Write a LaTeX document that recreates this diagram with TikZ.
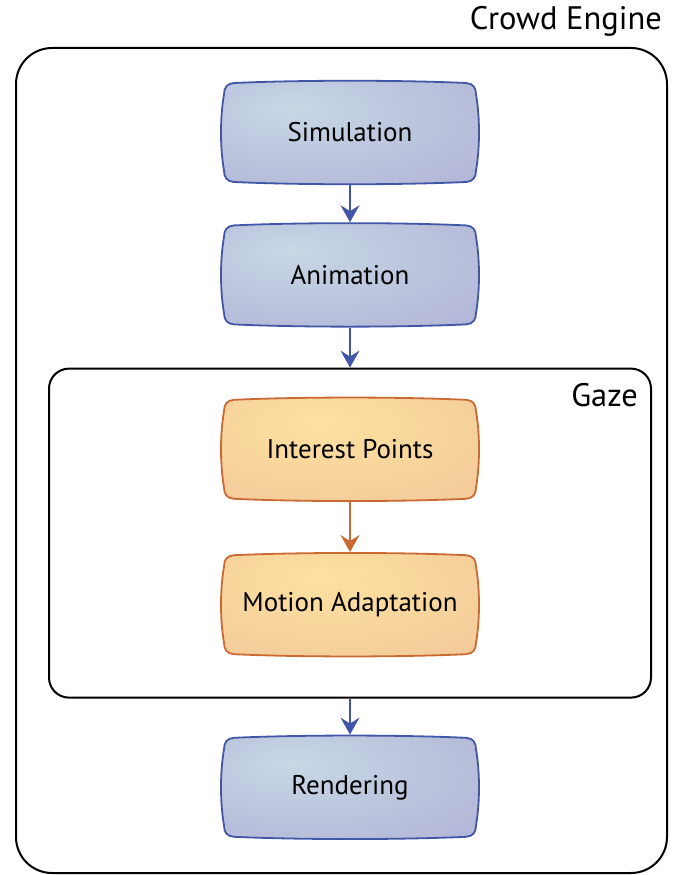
\documentclass[tikz,border=0pt]{standalone}
\usepackage{fontspec}
\setmainfont{PT Sans}
\usetikzlibrary{positioning,backgrounds,arrows.meta}
\definecolor{boxblue}{RGB}{66,86,168}
\definecolor{blueinner}{RGB}{200,216,230}
\definecolor{blueouter}{RGB}{162,158,204}
\definecolor{boxorange}{RGB}{202,106,50}
\definecolor{orangeinner}{RGB}{253,225,160}
\definecolor{orangeouter}{RGB}{236,188,150}
\pgfdeclareradialshading{blueglow}{\pgfpoint{-12bp}{12bp}}{color(0bp)=(blueinner); color(20bp)=(blueinner!70!blueouter); color(70bp)=(blueouter)}
\pgfdeclareradialshading{orangeglow}{\pgfpoint{-6bp}{14bp}}{color(0bp)=(orangeinner); color(20bp)=(orangeinner!70!orangeouter); color(60bp)=(orangeouter)}
\tikzstyle{stage}=[rectangle,minimum width=260pt,minimum height=105pt,inner sep=0pt,
font=\fontsize{27}{32}\selectfont]
\tikzstyle{bluestage}=[shade,shading=blueglow,draw=boxblue,line width=1.8pt]
\tikzstyle{orangestage}=[shade,shading=orangeglow,draw=boxorange,line width=1.8pt]
\tikzstyle{frame}=[rectangle,draw=black,line width=2pt]
\tikzstyle{framelabel}=[inner sep=0pt,font=\fontsize{32.5}{38}\selectfont]
\tikzstyle{flow}=[-{Stealth[length=17pt,width=19pt,inset=6pt]},line width=1.6pt,draw=boxblue]
% outline of a stage box, drawn round its node
\newcommand{\blob}[2]{%
  \path[#2,shift={(#1.center)}] (-116,49.5) .. controls (-50,52.5) and (50,52.5) .. (116,49.5)
    .. controls (123,49) and (126,45) .. (126,38)
    .. controls (130,15) and (130,-15) .. (126,-38)
    .. controls (126,-45) and (123,-49) .. (116,-49.5)
    .. controls (50,-52.5) and (-50,-52.5) .. (-116,-49.5)
    .. controls (-123,-49) and (-126,-45) .. (-126,-38)
    .. controls (-130,-15) and (-130,15) .. (-126,38)
    .. controls (-126,45) and (-123,49) .. cycle;
}

\begin{document}
\begin{tikzpicture}[x=1pt,y=1pt]
            \useasboundingbox (0,0) rectangle (680,-875);

            % Engine frame
            \node[frame,rounded corners=36pt,minimum width=651pt,minimum height=825pt] (engine) at (341.5,-460.5) {};
            \node[framelabel,anchor=south east] (enginelabel) at ([xshift=-6pt,yshift=10pt]engine.north east) {Crowd Engine};

            % Pipeline
            \node[stage] (sim) at (350,-132.5) {Simulation};
            \node[stage,below=37pt of sim] (anim) {Animation};

            % Gaze PART
            \node[frame,rounded corners=20pt,minimum width=602pt,minimum height=329pt,below=40pt of anim] (gaze) {};
            \node[framelabel,anchor=north east] (gazelabel) at ([xshift=-14pt,yshift=-16pt]gaze.north east) {Gaze};
            \node[stage,below=29pt of gaze.north] (interest) {Interest Points};
            \node[stage,below=50pt of interest] (motion) {Motion Adaptation};

            \node[stage,below=36pt of gaze] (render) {Rendering};

            \begin{scope}[on background layer]
              \foreach \n in {sim,anim,render} {\blob{\n}{bluestage}}
              \foreach \n in {interest,motion} {\blob{\n}{orangestage}}
            \end{scope}

            \draw[flow] (sim) -- (anim);
            \draw[flow] (anim.south) -- (gaze.north);
            \draw[flow,draw=boxorange] (interest) -- (motion);
            \draw[flow] (gaze.south) -- (render.north);

\end{tikzpicture}
\end{document}
